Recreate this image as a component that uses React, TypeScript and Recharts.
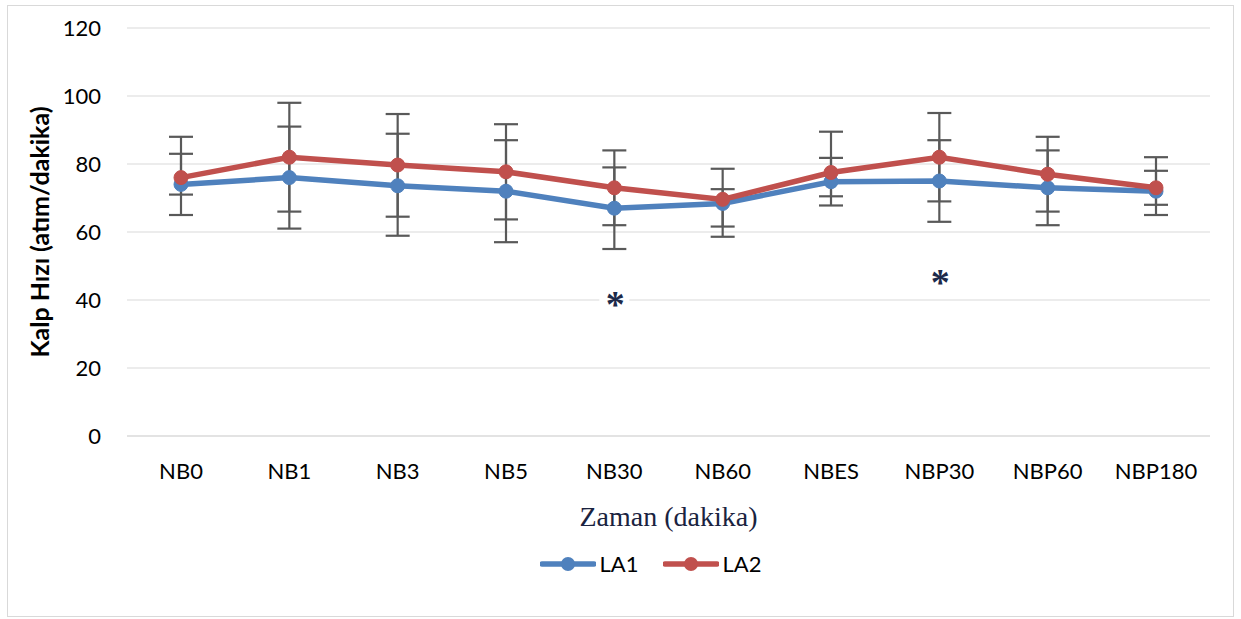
import React from 'react';
import { ComposedChart, Line, XAxis, YAxis, CartesianGrid, ErrorBar, Legend } from 'recharts';

const categories = ['NB0', 'NB1', 'NB3', 'NB5', 'NB30', 'NB60', 'NBES', 'NBP30', 'NBP60', 'NBP180'];
const la1 = [74, 76, 73.6, 72, 67, 68.4, 74.8, 75, 73, 72];
const la2 = [76, 82, 79.7, 77.7, 73, 69.6, 77.5, 82, 77, 73];
// [below, above]
const la1Err = [[9, 9], [15, 15], [14.7, 15.3], [15, 15], [12, 12], [9.8, 4.2], [7, 7], [12, 12], [11, 11], [7, 6]];
const la2Err = [[5, 12], [16, 16], [15.2, 15], [14, 14], [11, 11], [8, 9], [7, 12], [13, 13], [11, 11], [5, 9]];
// significance markers (*)
const sig = [null, null, null, null, 40, null, null, 46.5, null, null];
const yTicks = [0, 20, 40, 60, 80, 100, 120];

const data = categories.map((c, i) => ({
  name: c,
  la1: la1[i],
  la2: la2[i],
  la1Err: la1Err[i],
  la2Err: la2Err[i],
  sig: sig[i],
}));

const BLUE = '#4f81bd';
const RED = '#c0504d';
const FONT = 'Lato, "Open Sans", sans-serif';

const Star = (props: any) => {
  const { cx, cy, value, index } = props;
  if (value == null || cy == null || isNaN(cy)) return <g key={`s-${index}`} />;
  return (
    <g key={`s-${index}`}>
      <rect x={cx - 15} y={cy - 11} width={30} height={22} fill="#fff" />
      <text x={cx + 1} y={cy + 17} textAnchor="middle" fontFamily='"Liberation Serif", serif' fontWeight="bold" fontSize={38} fill="#1c2a4a">
        *
      </text>
    </g>
  );
};

const LegendContent = () => (
  <div style={{ display: 'flex', justifyContent: 'center', alignItems: 'center', fontFamily: FONT, fontSize: 22, color: '#000', paddingLeft: 84 }}>
    {[{ n: 'LA1', c: BLUE }, { n: 'LA2', c: RED }].map((s) => (
      <div key={s.n} style={{ display: 'flex', alignItems: 'center', marginRight: 24 }}>
        <svg width={56} height={16}>
          <line x1={2} y1={8} x2={54} y2={8} stroke={s.c} strokeWidth={5.5} strokeLinecap="round" />
          <circle cx={28} cy={8} r={7} fill={s.c} />
        </svg>
        <span style={{ marginLeft: 4 }}>{s.n}</span>
      </div>
    ))}
  </div>
);

export default function App() {
  return (
    <div style={{ position: 'absolute', left: 0, top: 0, width: 1241, height: 619, background: '#fff' }}>
      <div style={{ position: 'absolute', left: 7, top: 5, width: 1227, height: 612, border: '1px solid #d9d9d9', boxSizing: 'border-box' }} />
      <div style={{ position: 'absolute', left: 0, top: 0 }}>
        <ComposedChart width={1241} height={619} data={data} margin={{ top: 28, right: 31, bottom: 116, left: 0 }}>
          <CartesianGrid vertical={false} stroke="#d9d9d9" strokeWidth={1.2} />
          <XAxis
            dataKey="name"
            height={40}
            padding={{ left: 54, right: 54 }}
            axisLine={{ stroke: '#d9d9d9', strokeWidth: 1.2 }}
            tickLine={false}
            tickMargin={21}
            tick={{ fontFamily: FONT, fontSize: 22, fill: '#000' }}
            interval={0}
            label={{
              value: 'Zaman (dakika)',
              position: 'bottom',
              offset: 30,
              style: { fontFamily: '"Liberation Serif", serif', fontSize: 28, fill: '#1a2340' },
            }}
          />
          <YAxis
            width={127}
            domain={[0, 120]}
            ticks={yTicks}
            axisLine={false}
            tickLine={false}
            tickMargin={20}
            tick={{ fontFamily: FONT, fontSize: 22, fill: '#000' }}
            label={{
              value: 'Kalp Hızı (atım/dakika)',
              angle: -90,
              position: 'insideLeft',
              offset: 40,
              style: { textAnchor: 'middle', fontFamily: FONT, fontWeight: 'bold', fontSize: 25, fill: '#000' },
            }}
          />
          <Line
            dataKey="la1"
            stroke={BLUE}
            strokeWidth={5.5}
            dot={{ r: 7, fill: BLUE, stroke: BLUE, strokeWidth: 1 }}
            activeDot={false}
            isAnimationActive={false}
          >
            <ErrorBar dataKey="la1Err" width={12} stroke="#595959" strokeWidth={2.2} direction="y" />
          </Line>
          <Line
            dataKey="la2"
            stroke={RED}
            strokeWidth={5.5}
            dot={{ r: 7, fill: RED, stroke: RED, strokeWidth: 1 }}
            activeDot={false}
            isAnimationActive={false}
          >
            <ErrorBar dataKey="la2Err" width={12} stroke="#595959" strokeWidth={2.2} direction="y" />
          </Line>
          <Line
            dataKey="sig"
            stroke="none"
            dot={Star}
            activeDot={false}
            legendType="none"
            isAnimationActive={false}
          />
          <Legend content={LegendContent} wrapperStyle={{ top: 550, left: 0, width: 1241 }} />
        </ComposedChart>
      </div>
    </div>
  );
}
